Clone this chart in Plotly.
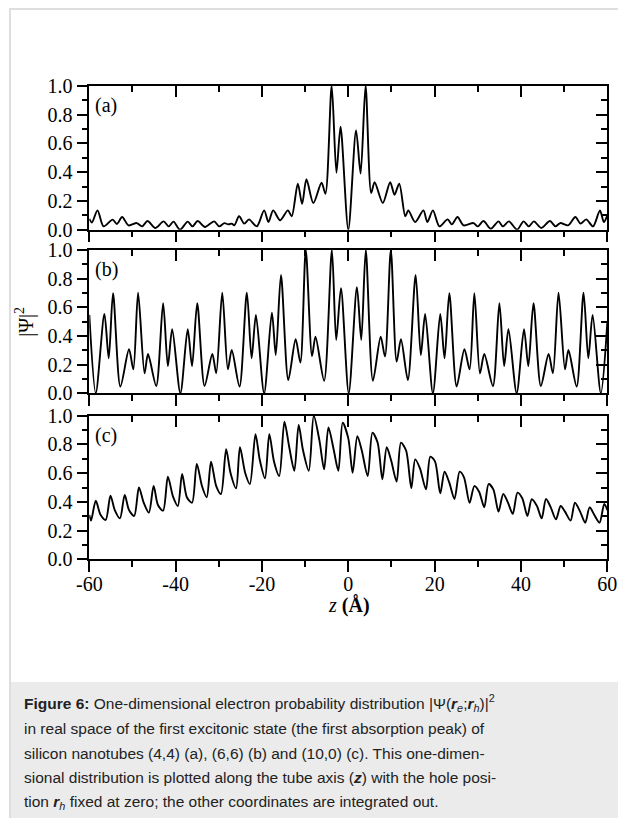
import plotly.graph_objects as go

# ---------------- data ----------------
za = [-60, -59.4, -58.1, -56.7, -54.6, -53.6, -52.4, -50.9, -49.0, -47.8, -46.5, -44.7, -42.8, -41.6,
      -40.5, -39.0, -37.2, -36.1, -34.9, -33.2, -31.1, -29.9, -28.7, -27.8, -27.0, -26.4, -25.3, -24.1,
      -23.0, -21.2, -19.5, -18.5, -17.4, -15.8, -14.0, -13.1, -11.7, -10.7, -9.7, -8.1, -6.2, -5.3,
      -3.85, -2.75, -1.8, 0.0, 1.8, 2.85, 4.0, 5.3, 6.1, 8.0, 9.7, 10.7, 11.8, 13.2, 13.9, 15.5, 17.4,
      18.3, 19.6, 21.1, 23.0, 24.0, 25.3, 26.7, 29.0, 30.0, 31.3, 33.0, 34.8, 35.8, 37.2, 39.1, 40.6,
      41.8, 43.0, 44.7, 46.7, 48.0, 49.1, 50.9, 52.6, 53.8, 55.1, 56.7, 58.3, 59.2, 60.0]
psi_a = [0.075, 0.05, 0.134, 0.023, 0.07, 0.04, 0.088, 0.03, 0.046, 0.023, 0.06, 0.012, 0.058, 0.023,
         0.056, 0.0, 0.056, 0.023, 0.06, 0.019, 0.058, 0.023, 0.046, 0.037, 0.042, 0.03, 0.093, 0.042,
         0.072, 0.023, 0.134, 0.053, 0.134, 0.065, 0.134, 0.093, 0.32, 0.18, 0.35, 0.185, 0.326, 0.25,
         1.0, 0.396, 0.715, 0.0, 0.69, 0.39, 1.0, 0.255, 0.33, 0.185, 0.33, 0.243, 0.32, 0.093, 0.134,
         0.053, 0.134, 0.053, 0.134, 0.023, 0.072, 0.037, 0.088, 0.03, 0.046, 0.023, 0.06, 0.007, 0.058,
         0.023, 0.058, 0.0, 0.058, 0.023, 0.058, 0.012, 0.06, 0.023, 0.046, 0.03, 0.088, 0.042, 0.072,
         0.023, 0.134, 0.053, 0.1]

zb = [-60, -58.5, -56.5, -55.5, -54.5, -52.8, -50.8, -49.8, -48.7, -47.2, -46.4, -44.5, -42.9, -41.8,
      -40.8, -38.9, -37.2, -36.2, -35.0, -33.3, -31.5, -30.6, -29.2, -27.9, -27.0, -25.2, -23.5, -22.4,
      -21.4, -19.5, -17.7, -16.8, -15.6, -13.9, -12.2, -11.1, -9.85, -8.4, -7.6, -5.6, -3.8, -2.8, -1.7,
      0.1, 2.0, 3.0, 4.05, 5.7, 7.5, 8.5, 9.85, 11.2, 12.2, 13.8, 15.6, 16.8, 17.8, 19.6, 21.3, 22.3,
      23.4, 25.1, 26.9, 28.1, 29.2, 30.5, 31.5, 33.5, 35.0, 36.1, 37.1, 39.0, 40.7, 41.7, 42.9, 44.6,
      46.4, 47.4, 48.7, 50.2, 51.0, 52.9, 54.5, 55.6, 56.6, 58.5, 60.0]
psi_b = [0.547, 0.0, 0.553, 0.244, 0.698, 0.047, 0.307, 0.167, 0.702, 0.14, 0.274, 0.051, 0.628, 0.19,
         0.447, 0.0, 0.447, 0.19, 0.628, 0.051, 0.274, 0.14, 0.702, 0.167, 0.302, 0.047, 0.702, 0.244,
         0.547, 0.0, 0.563, 0.267, 0.826, 0.093, 0.377, 0.214, 1.0, 0.26, 0.395, 0.088, 1.0, 0.372, 0.733,
         0.0, 0.74, 0.372, 1.0, 0.088, 0.395, 0.256, 1.0, 0.221, 0.377, 0.093, 0.826, 0.267, 0.553, 0.0,
         0.553, 0.244, 0.698, 0.047, 0.307, 0.167, 0.698, 0.14, 0.274, 0.051, 0.628, 0.19, 0.447, 0.0,
         0.447, 0.19, 0.628, 0.051, 0.274, 0.14, 0.702, 0.167, 0.302, 0.047, 0.702, 0.244, 0.547, 0.0, 0.49]

zc = [-60, -59.6, -58.5, -57.4, -56.2, -55.1, -54.1, -52.9, -51.8, -50.8, -49.6, -48.5, -47.4, -46.2,
      -45.1, -44.1, -42.9, -41.8, -40.6, -39.5, -38.5, -37.4, -36.2, -35.1, -33.9, -32.8, -31.8, -30.6,
      -29.5, -28.3, -27.3, -26.0, -25.1, -23.9, -22.8, -21.5, -20.5, -19.3, -18.3, -17.2, -16.0, -14.8,
      -13.7, -12.5, -11.5, -10.5, -9.15, -8.0, -6.7, -5.6, -4.6, -3.4, -2.3, -1.3, 0.0, 1.0, 2.1, 3.1,
      4.5, 5.6, 6.8, 7.9, 8.9, 9.9, 11.2, 12.2, 13.4, 14.6, 15.5, 16.6, 18.0, 19.0, 20.1, 21.3, 22.3,
      23.4, 24.6, 25.8, 26.8, 28.1, 29.2, 30.3, 31.5, 32.5, 33.6, 34.8, 35.9, 37.0, 38.1, 39.2, 40.3,
      41.5, 42.5, 43.7, 44.8, 45.8, 46.9, 48.1, 49.2, 50.2, 51.5, 52.5, 53.7, 54.9, 55.9, 57.0, 58.2,
      59.3, 60.0]
psi_c = [0.309, 0.27, 0.408, 0.31, 0.274, 0.443, 0.343, 0.285, 0.448, 0.343, 0.302, 0.5, 0.394, 0.325,
         0.51, 0.378, 0.339, 0.575, 0.436, 0.371, 0.594, 0.432, 0.394, 0.664, 0.51, 0.432, 0.68, 0.51,
         0.455, 0.766, 0.603, 0.494, 0.78, 0.603, 0.524, 0.872, 0.691, 0.564, 0.872, 0.68, 0.58, 0.958,
         0.784, 0.617, 0.935, 0.761, 0.617, 1.0, 0.83, 0.626, 0.919, 0.766, 0.617, 0.951, 0.842, 0.603,
         0.858, 0.761, 0.58, 0.882, 0.812, 0.557, 0.78, 0.691, 0.541, 0.812, 0.756, 0.494, 0.696, 0.633,
         0.487, 0.715, 0.68, 0.459, 0.61, 0.534, 0.42, 0.61, 0.571, 0.394, 0.51, 0.471, 0.362, 0.524,
         0.487, 0.332, 0.455, 0.394, 0.316, 0.464, 0.425, 0.302, 0.418, 0.371, 0.285, 0.42, 0.362, 0.278,
         0.371, 0.332, 0.27, 0.394, 0.332, 0.255, 0.362, 0.309, 0.255, 0.385, 0.343]

panel_labels = ["(a)", "(b)", "(c)"]
x_tick_vals = [-60, -40, -20, 0, 20, 40, 60]
x_tick_labels = ["-60", "-40", "-20", "0", "20", "40", "60"]
y_tick_vals = [0.0, 0.2, 0.4, 0.6, 0.8, 1.0]
y_tick_labels = ["0.0", "0.2", "0.4", "0.6", "0.8", "1.0"]

caption_lines = [
    "<b>Figure 6:</b> One-dimensional electron probability distribution |Ψ(<b><i>r</i></b><sub><i>e</i></sub>;<b><i>r</i></b><sub><i>h</i></sub>)|<sup>2</sup>",
    "in real space of the first excitonic state (the first absorption peak) of",
    "silicon nanotubes (4,4) (a), (6,6) (b) and (10,0) (c). This one-dimen-",
    "sional distribution is plotted along the tube axis (<b><i>z</i></b>) with the hole posi-",
    "tion <b><i>r</i></b><sub><i>h</i></sub> fixed at zero; the other coordinates are integrated out.",
]

# ---------------- layout geometry ----------------
# the page body has an 8px margin, so the figure sits at (8, 8) in the window
OFF = 8
W, H = 626 - OFF, 818 - OFF


def fx(p):
    return (p - OFF) / W


def fy(p):
    return 1 - (p - OFF) / H


SERIF = "Liberation Serif, Times New Roman, serif"
SANS = "Liberation Sans, Arial, sans-serif"
xdom = [fx(89.3), fx(607.3)]
ydoms = [[fy(229.7), fy(85.7)],
         [fy(393.3), fy(250.0)],
         [fy(559.3), fy(415.7)]]

fig = go.Figure()
series = [(za, psi_a), (zb, psi_b), (zc, psi_c)]
tickfont = dict(family=SERIF, size=20, color="black")
LW = 1.5

layout = {}
for i, (z, v) in enumerate(series):
    s = "" if i == 0 else str(i + 1)
    so = str(i + 4)
    fig.add_trace(go.Scatter(x=z, y=v, mode="lines",
                             line=dict(color="black", width=1.9, shape="spline", smoothing=0.8),
                             xaxis="x" + s, yaxis="y" + s, hoverinfo="skip", showlegend=False))
    # dummy traces so overlay axes get drawn
    fig.add_trace(go.Scatter(x=[None], y=[None], xaxis="x" + so, yaxis="y" + s,
                             showlegend=False, hoverinfo="skip"))
    fig.add_trace(go.Scatter(x=[None], y=[None], xaxis="x" + s, yaxis="y" + so,
                             showlegend=False, hoverinfo="skip"))

    xcommon = dict(range=[-60, 60], tickvals=x_tick_vals, ticktext=x_tick_labels,
                   ticklen=11, tickwidth=LW, tickcolor="black", showgrid=False, zeroline=False,
                   tickfont=tickfont, automargin=False)
    layout["xaxis" + s] = dict(domain=xdom, anchor="y" + s, ticks="outside",
                               showline=True, linecolor="black", linewidth=LW, mirror=True,
                               showticklabels=(i == 2), ticklabelstandoff=-5,
                               minor=dict(tick0=-50, dtick=20, ticks="outside", ticklen=6,
                                          tickwidth=LW, tickcolor="black", showgrid=False),
                               **xcommon)
    layout["xaxis" + so] = dict(overlaying="x" + s, side="top", anchor="y" + s, ticks="inside",
                                showline=False, showticklabels=False,
                                minor=dict(tick0=-50, dtick=20, ticks="inside", ticklen=6,
                                           tickwidth=LW, tickcolor="black", showgrid=False),
                                **xcommon)
    ycommon = dict(range=[0, 1], tickvals=y_tick_vals, ticktext=y_tick_labels,
                   ticklen=11, tickwidth=LW, tickcolor="black", showgrid=False, zeroline=False,
                   tickfont=tickfont, automargin=False)
    layout["yaxis" + s] = dict(domain=ydoms[i], anchor="x" + s, ticks="outside",
                               showline=True, linecolor="black", linewidth=LW, mirror=True,
                               minor=dict(tick0=0.1, dtick=0.2, ticks="outside", ticklen=6,
                                          tickwidth=LW, tickcolor="black", showgrid=False),
                               **ycommon)
    layout["yaxis" + so] = dict(overlaying="y" + s, side="right", anchor="x" + s, ticks="inside",
                                showline=False, showticklabels=False,
                                minor=dict(tick0=0.1, dtick=0.2, ticks="inside", ticklen=6,
                                           tickwidth=LW, tickcolor="black", showgrid=False),
                                **ycommon)

annotations = []
for i, lab in enumerate(panel_labels):
    s = "" if i == 0 else str(i + 1)
    annotations.append(dict(text=lab, xref="x" + s + " domain", yref="y" + s + " domain",
                            x=0.008, y=0.955, xanchor="left", yanchor="top", showarrow=False,
                            font=dict(family=SERIF, size=20, color="black")))
annotations.append(dict(text="|Ψ|<sup>2</sup>", xref="paper", yref="paper",
                        x=fx(25), y=fy(321.7), textangle=-90, showarrow=False,
                        xanchor="center", yanchor="middle",
                        font=dict(family=SERIF, size=20, color="black")))
annotations.append(dict(text="<i>z</i> <b>(Å)</b>", xref="paper", yref="paper",
                        x=fx(349), y=fy(605), showarrow=False,
                        xanchor="center", yanchor="middle",
                        font=dict(family=SERIF, size=20, color="black")))
line_y = [703, 728.5, 753, 777.5, 802]
for t, yc in zip(caption_lines, line_y):
    annotations.append(dict(text=t, xref="paper", yref="paper", x=fx(22), y=fy(yc),
                            xanchor="left", yanchor="middle", showarrow=False, align="left",
                            font=dict(family=SANS, size=15.5, color="#222222")))

shapes = [
    dict(type="rect", xref="paper", yref="paper", x0=fx(10), x1=1.0, y0=0.0, y1=fy(682),
         fillcolor="#ebebeb", line=dict(width=0), layer="below"),
    dict(type="line", xref="paper", yref="paper", x0=fx(9), x1=1.0, y0=fy(9), y1=fy(9),
         line=dict(color="#dedede", width=2)),
    dict(type="line", xref="paper", yref="paper", x0=fx(10), x1=fx(10), y0=0.0, y1=fy(9),
         line=dict(color="#dedede", width=2)),
]

fig.update_layout(template="none", width=W, height=H,
                  margin=dict(l=0, r=0, t=0, b=0, pad=0, autoexpand=False),
                  paper_bgcolor="white", plot_bgcolor="rgba(0,0,0,0)",
                  annotations=annotations, shapes=shapes, showlegend=False, **layout)

fig.write_html("out.html")
